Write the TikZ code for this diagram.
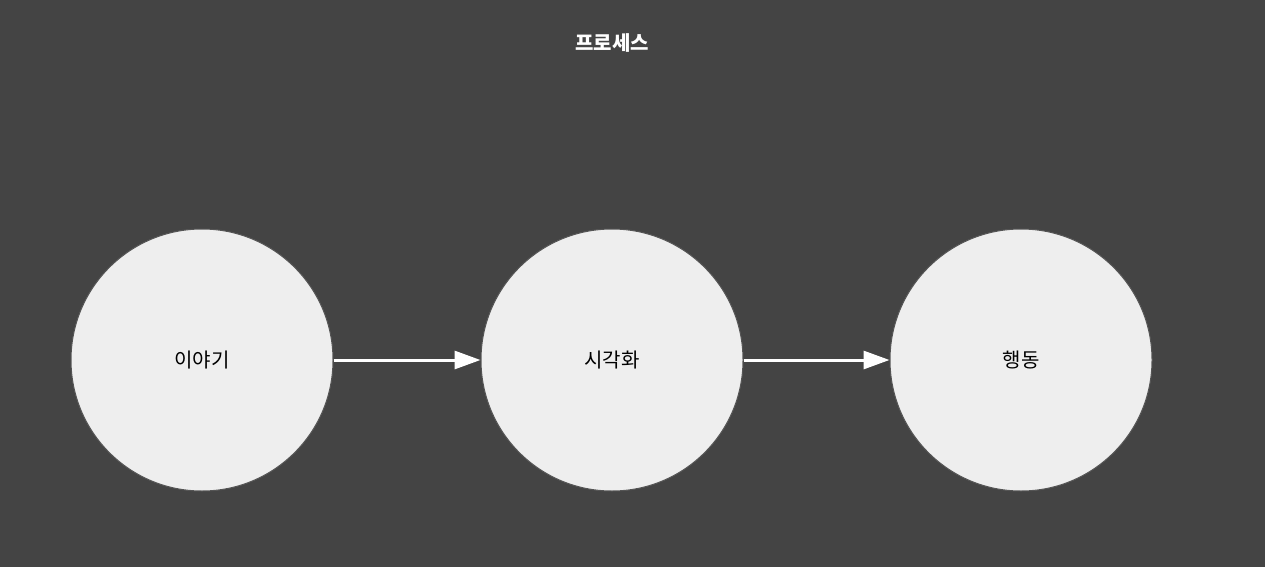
\documentclass[tikz,border=0pt]{standalone}
\usepackage{fontspec}
\newfontfamily\cjk{Noto Sans CJK KR}
\usetikzlibrary{arrows.meta}
\definecolor{bg}{HTML}{444444}
\definecolor{cfill}{HTML}{EEEEEE}
\definecolor{cline}{HTML}{555555}
\tikzset{
  stage/.style={circle, draw=cline, line width=1pt, fill=cfill, minimum size=262pt, inner sep=0pt, font=\cjk\fontsize{20}{24}\selectfont, text=black},
  conn/.style={draw=white, line width=3pt, -{Triangle[length=26pt,width=18pt]}}
}
\begin{document}
\begin{tikzpicture}[x=1pt,y=-1pt]
\fill[bg] (0,0) rectangle (1265,567);
\useasboundingbox (0,0) rectangle (1265,567);
\node[font=\cjk\bfseries\fontsize{20}{24}\selectfont, text=white] (title) at (612,43) {프로세스};
\node[stage] (a) at (202,360) {이야기};
\node[stage] (b) at (612,360) {시각화};
\node[stage] (c) at (1021,360) {행동};
\draw[conn] (a) -- (b);
\draw[conn] (b) -- (c);
\end{tikzpicture}
\end{document}
